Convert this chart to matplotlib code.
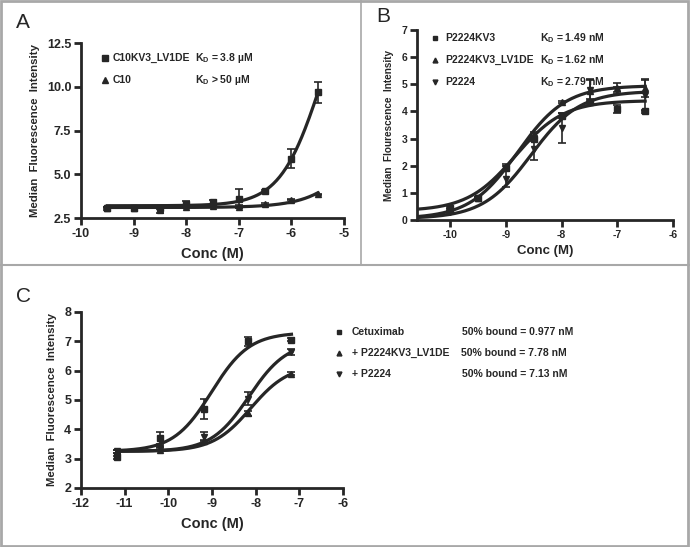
import numpy as np
import matplotlib
matplotlib.use("Agg")
import matplotlib.pyplot as plt
from matplotlib.lines import Line2D

plt.rcParams['font.family'] = ['Liberation Sans', 'DejaVu Sans']
plt.rcParams['font.weight'] = 'bold'
plt.rcParams['axes.unicode_minus'] = False
plt.rcParams['mathtext.fontset'] = 'custom'
plt.rcParams['mathtext.rm'] = 'Liberation Sans:bold'
plt.rcParams['mathtext.it'] = 'Liberation Sans:bold'
plt.rcParams['mathtext.bf'] = 'Liberation Sans:bold'

W, H = 690, 547
INK = '#262626'

# ---- panel A data ----
a_x = [-9.5, -9.0, -8.5, -8.0, -7.5, -7.0, -6.5, -6.0, -5.5]
a_c10kv3_y = [3.05, 3.1, 3.05, 3.3, 3.4, 3.6, 4.05, 5.9, 9.7]
a_c10kv3_err = [0.08, 0.05, 0.05, 0.15, 0.15, 0.55, 0.05, 0.55, 0.6]
a_c10_y = [3.1, 3.1, 2.95, 3.15, 3.2, 3.15, 3.3, 3.55, 3.85]
a_c10_err = [0.05, 0.03, 0.15, 0.05, 0.05, 0.1, 0.03, 0.03, 0.03]
# fit: bottom, top, logEC50, hill
a_c10kv3_fit = [3.2, 17.5, -5.42, 1.1]
a_c10_fit = [3.1, 14.0, -4.3, 0.9]
a_labels = ['C10KV3_LV1DE', 'C10']
a_kd = ['K$_D$ = 3.8 \u00b5M', 'K$_D$ > 50 \u00b5M']

# ---- panel B data ----
b_x = [-10.0, -9.5, -9.0, -8.5, -8.0, -7.5, -7.0, -6.5]
b_kv3_y = [0.45, 0.8, 1.9, 3.0, 3.85, 4.35, 4.1, 4.0]
b_kv3_err = [0.05, 0.05, 0.1, 0.1, 0.1, 0.1, 0.15, 0.05]
b_lv1de_y = [0.4, 0.8, 1.95, 3.15, 4.35, 4.75, 4.85, 4.85]
b_lv1de_err = [0.05, 0.05, 0.1, 0.1, 0.05, 0.4, 0.2, 0.3]
b_p2224_y = [0.3, 0.8, 1.5, 2.6, 3.4, 4.8, 4.8, 4.6]
b_p2224_err = [0.05, 0.05, 0.3, 0.4, 0.55, 0.4, 0.1, 0.6]
b_kv3_fit = [0.33, 4.4, -8.83, 1.0]
b_lv1de_fit = [0.05, 4.95, -8.79, 1.0]
b_p2224_fit = [0.05, 4.75, -8.55, 1.0]
b_labels = ['P2224KV3', 'P2224KV3_LV1DE', 'P2224']
b_kd = ['K$_D$ = 1.49 nM', 'K$_D$ = 1.62 nM', 'K$_D$ = 2.79 nM']

# ---- panel C data ----
c_x = [-11.18, -10.18, -9.18, -8.18, -7.18]
c_cetux_y = [3.05, 3.7, 4.7, 7.0, 7.05]
c_cetux_err = [0.05, 0.2, 0.35, 0.15, 0.05]
c_lv1de_y = [3.25, 3.3, 3.6, 4.55, 5.9]
c_lv1de_err = [0.05, 0.05, 0.05, 0.08, 0.05]
c_p2224_y = [3.25, 3.35, 3.75, 5.05, 6.65]
c_p2224_err = [0.05, 0.05, 0.15, 0.22, 0.1]
c_cetux_fit = [3.25, 7.3, -9.01, 1.0]
c_lv1de_fit = [3.25, 6.2, -8.11, 1.0]
c_p2224_fit = [3.25, 7.0, -8.15, 1.0]
c_labels = ['Cetuximab', '+ P2224KV3_LV1DE', '+ P2224']
c_bound = ['50% bound = 0.977 nM', '50% bound = 7.78 nM', '50% bound = 7.13 nM']


def logistic(x, p):
    bottom, top, logec, hill = p
    return bottom + (top - bottom) / (1 + 10 ** ((logec - x) * hill))


def px_axes(l, t, r, b):
    return fig.add_axes([l / W, 1 - b / H, (r - l) / W, (b - t) / H])


def style(ax, tick_size):
    for s in ('top', 'right'):
        ax.spines[s].set_visible(False)
    for s in ('left', 'bottom'):
        ax.spines[s].set_linewidth(2.0)
        ax.spines[s].set_color(INK)
    ax.tick_params(width=2.0, length=5, color=INK, labelsize=tick_size,
                   labelcolor=INK, pad=2)
    for lab in ax.get_xticklabels() + ax.get_yticklabels():
        lab.set_fontweight('bold')
    ax.patch.set_alpha(0)


def series(ax, x, y, err, fit, marker, xr, ms=5):
    xs = np.linspace(xr[0], xr[1], 200)
    ax.plot(xs, logistic(xs, fit), color=INK, lw=2.3, zorder=2)
    ax.errorbar(x, y, yerr=err, fmt=marker, color=INK, ms=ms, elinewidth=1.2,
                capsize=3, capthick=1.2, zorder=3, clip_on=False)


def fig_marker(x, y, marker, ms=4):
    fig.add_artist(Line2D([x / W], [1 - y / H], marker=marker, color=INK,
                          ms=ms, ls='none', transform=fig.transFigure))


def fig_text(x, y, s, size, **kw):
    fig.text(x / W, 1 - y / H, s, fontsize=size, color=INK, va='center', **kw)


fig = plt.figure(figsize=(W / 100, H / 100), dpi=100)
fig.patch.set_facecolor('white')

# ---- A ----
axA = px_axes(81, 43, 344, 218)
series(axA, a_x, a_c10kv3_y, a_c10kv3_err, a_c10kv3_fit, 's', (-9.5, -5.5))
series(axA, a_x, a_c10_y, a_c10_err, a_c10_fit, '^', (-9.5, -5.5), ms=4.5)
axA.set_xlim(-10, -5)
axA.set_ylim(2.5, 12.5)
axA.set_xticks([-10, -9, -8, -7, -6, -5])
axA.set_yticks([2.5, 5.0, 7.5, 10.0, 12.5])
axA.set_yticklabels(['2.5', '5.0', '7.5', '10.0', '12.5'])
style(axA, 9)
axA.set_xlabel('Conc (M)', fontsize=10.5, fontweight='bold', color=INK, labelpad=5)
axA.set_ylabel('Median  Fluorescence  Intensity', fontsize=8.2, fontweight='bold',
               color=INK, labelpad=5)
for i, m in enumerate(['s', '^']):
    yy = 58 + 22 * i
    fig_marker(105, yy, m)
    fig_text(113, yy, a_labels[i], 7.5, fontweight='bold')
    fig_text(195, yy, a_kd[i], 7.5, fontweight='bold')

# ---- B ----
axB = px_axes(417, 30, 673, 220)
series(axB, b_x, b_kv3_y, b_kv3_err, b_kv3_fit, 's', (-10.6, -6.5), ms=4.5)
series(axB, b_x, b_lv1de_y, b_lv1de_err, b_lv1de_fit, '^', (-10.6, -6.5), ms=4.5)
series(axB, b_x, b_p2224_y, b_p2224_err, b_p2224_fit, 'v', (-10.6, -6.5), ms=4.5)
axB.set_xlim(-10.6, -6)
axB.set_ylim(0, 7)
axB.set_xticks([-10, -9, -8, -7, -6])
axB.set_yticks(range(0, 8))
style(axB, 7.5)
axB.set_xlabel('Conc (M)', fontsize=9.5, fontweight='bold', color=INK, labelpad=4)
axB.set_ylabel('Median  Flourescence  Intensity', fontsize=7.2, fontweight='bold',
               color=INK, labelpad=5)
for i, m in enumerate(['s', '^', 'v']):
    yy = 38 + 22 * i
    fig_marker(435, yy, m, ms=3.5)
    fig_text(445, yy, b_labels[i], 7.5, fontweight='bold')
    fig_text(540, yy, b_kd[i], 7.5, fontweight='bold')

# ---- C ----
axC = px_axes(81, 312, 343, 488)
series(axC, c_x, c_cetux_y, c_cetux_err, c_cetux_fit, 's', (-11.18, -7.18), ms=4.5)
series(axC, c_x, c_lv1de_y, c_lv1de_err, c_lv1de_fit, '^', (-11.18, -7.18), ms=4.5)
series(axC, c_x, c_p2224_y, c_p2224_err, c_p2224_fit, 'v', (-11.18, -7.18), ms=4.5)
axC.set_xlim(-12, -6)
axC.set_ylim(2, 8)
axC.set_xticks(range(-12, -5))
axC.set_yticks(range(2, 9))
style(axC, 9)
axC.set_xlabel('Conc (M)', fontsize=10.5, fontweight='bold', color=INK, labelpad=5)
axC.set_ylabel('Median  Fluorescence  Intensity', fontsize=8.2, fontweight='bold',
               color=INK, labelpad=5)
for i, m in enumerate(['s', '^', 'v']):
    yy = 332 + 21 * i
    fig_marker(339, yy, m, ms=3.5)
    fig_text(352, yy, c_labels[i], 7.5, fontweight='bold')
    fig_text(462 if i != 1 else 461, yy, c_bound[i], 7.5, fontweight='bold')

# panel letters
fig_text(16, 22, 'A', 15, fontweight='normal')
fig_text(376, 16, 'B', 15, fontweight='normal')
fig_text(16, 297, 'C', 15, fontweight='normal')

# panel frames
grey = '#a8a8a8'
fig.add_artist(Line2D([0, 1], [1 - 265 / H] * 2, color=grey, lw=1.5,
                      transform=fig.transFigure))
fig.add_artist(Line2D([361 / W] * 2, [1, 1 - 265 / H], color=grey, lw=1.2,
                      transform=fig.transFigure))
fig.add_artist(plt.Rectangle((0.001, 0.002), 0.996, 0.997, fill=False,
                             ec=grey, lw=2.0, transform=fig.transFigure))

fig.savefig('out.png', dpi=100)
